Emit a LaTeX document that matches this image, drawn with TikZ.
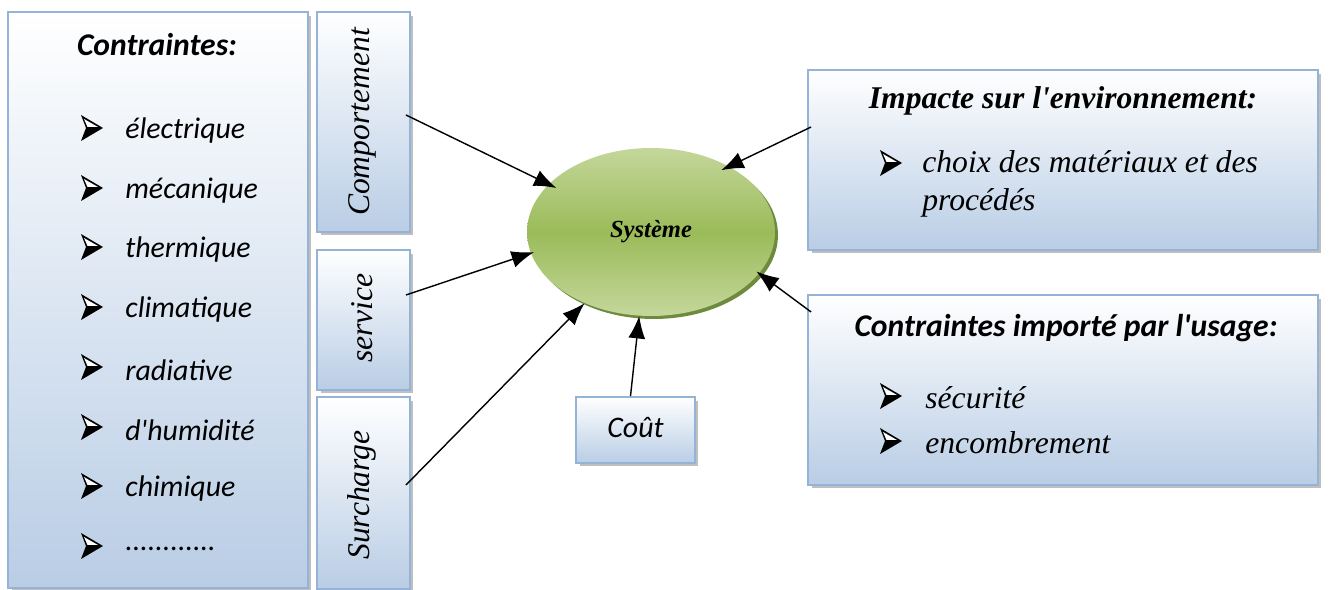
\documentclass[tikz,border=0pt]{standalone}
\usepackage{fontspec}
\setmainfont{Liberation Serif}
\newfontfamily\calib{Carlito}
\usetikzlibrary{shadows,arrows.meta,calc,shapes.geometric}
\definecolor{bordercol}{RGB}{149,179,215}
\definecolor{boxbot}{RGB}{185,205,229}
\definecolor{gtop}{RGB}{196,215,155}
\definecolor{gmid}{RGB}{155,187,89}
\definecolor{gdark}{RGB}{110,139,61}
\tikzset{
 box/.style={draw=bordercol, line width=1.1pt, top color=white, bottom color=boxbot,
   drop shadow={shadow xshift=0.07cm, shadow yshift=-0.07cm, fill=black!50, opacity=0.5}, inner sep=0pt},
 conn/.style={line width=0.8pt, -{Latex[length=0.45cm,width=0.34cm]}},
 item/.style={anchor=west, font=\calib\itshape\fontsize{17}{20}\selectfont, inner sep=0pt},
 titem/.style={anchor=west, font=\itshape\fontsize{18}{22}\selectfont, inner sep=0pt},
 rotlbl/.style={rotate=90, font=\itshape\fontsize{18}{20}\selectfont, inner sep=0pt},
 chead/.style={font=\calib\bfseries\itshape\fontsize{18}{20}\selectfont, inner sep=0pt},
 thead/.style={font=\bfseries\itshape\fontsize{18}{20}\selectfont, inner sep=0pt},
 arrowbul/.pic={
   \fill[black] (11,0) -- (-11,-13) -- (-6,0) -- (-11,13) -- cycle;
   \fill[white] (-8,-9) -- (6,-1) -- (-4.5,-1) -- cycle;
 },
}
\begin{document}
\begin{tikzpicture}[x=0.02cm,y=-0.02cm]
\useasboundingbox (0,0) rectangle (1335,590);
% boxes
\node[box, minimum width=6cm, minimum height=11.52cm] (left) at (158,300) {};
\node[box, minimum width=1.86cm, minimum height=4.4cm] (comp) at (363.5,122) {};
\node[box, minimum width=1.86cm, minimum height=2.8cm] (svc) at (363.5,320) {};
\node[box, minimum width=1.86cm, minimum height=3.84cm] (sur) at (363.5,493) {};
\node[box, minimum width=2.38cm, minimum height=1.32cm] (cout) at (635.5,430) {};
\node[box, minimum width=10.2cm, minimum height=3.6cm] (imp) at (1063,160) {};
\node[box, minimum width=10.2cm, minimum height=3.8cm] (ctr) at (1063,390) {};
% ellipse
\node[ellipse, fill=gdark, minimum width=4.96cm, minimum height=3.36cm, inner sep=0pt] (sysb) at (654,235) {};
\node[ellipse, top color=gtop, bottom color=gtop, middle color=gmid, minimum width=4.96cm, minimum height=3.36cm, inner sep=0pt,
   font=\bfseries\itshape\fontsize{14}{16}\selectfont] (sys) at (651,232) {Système};
% texts left
\node[chead] (lh) at (157,45) {Contraintes:};
\foreach \t/\y [count=\i] in {électrique/131, mécanique/191, thermique/250, climatique/310, radiative/370, d'humidité/430, chimique/489}{
  \pic (lb\i) at (92,\y-3) {arrowbul};
  \node[item] (li\i) at (125,\y) {\t};
}
\pic (lb8) at (92,546) {arrowbul};
\node[item] (li8) at (125,549) {\hbox to 1.6cm{.\hfil.\hfil.\hfil.\hfil.\hfil.\hfil.\hfil.\hfil.\hfil.\hfil.\hfil.}};
\node[rotlbl] (compl) at (362,122) {Comportement};
\node[rotlbl] (svcl) at (362,318) {service};
\node[rotlbl] (surl) at (362,495) {Surcharge};
\node[inner sep=0pt, font=\calib\itshape\fontsize{17}{20}\selectfont] (coutl) at (635.5,428) {\textit{Coût}};
% right boxes texts
\node[thead] (imph) at (1063,101) {Impacte sur l\textquotesingle environnement:};
\pic (ib1) at (891,163) {arrowbul};
\node[titem, anchor=north west, align=left] (it1) at (922,150) {choix des matériaux et des\\procédés};
\node[chead] (ctrh) at (1066,328) {Contraintes importé par l'usage:};
\pic (cb1) at (891,396) {arrowbul};
\node[titem] (ct1) at (925,398) {sécurité};
\pic (cb2) at (891,441) {arrowbul};
\node[titem] (ct2) at (925,443) {encombrement};
% connectors
\draw[conn, shorten >=-5pt] ($(comp.east)+(-5,-7)$) -- (sys.155);
\draw[conn, shorten >=-2pt] ($(svc.east)+(-5,-25)$) -- (sys.190);
\draw[conn] ($(sur.east)+(-5,-8)$) -- (sys.227);
\draw[conn] ($(cout.north)+(-5,0)$) -- (sys.262);
\draw[conn, shorten >=-5pt] ($(imp.west)+(4,-33)$) -- (sys.40);
\draw[conn, shorten >=-2pt] ($(ctr.west)+(4,-78)$) -- (sys.339);
\end{tikzpicture}
\end{document}
